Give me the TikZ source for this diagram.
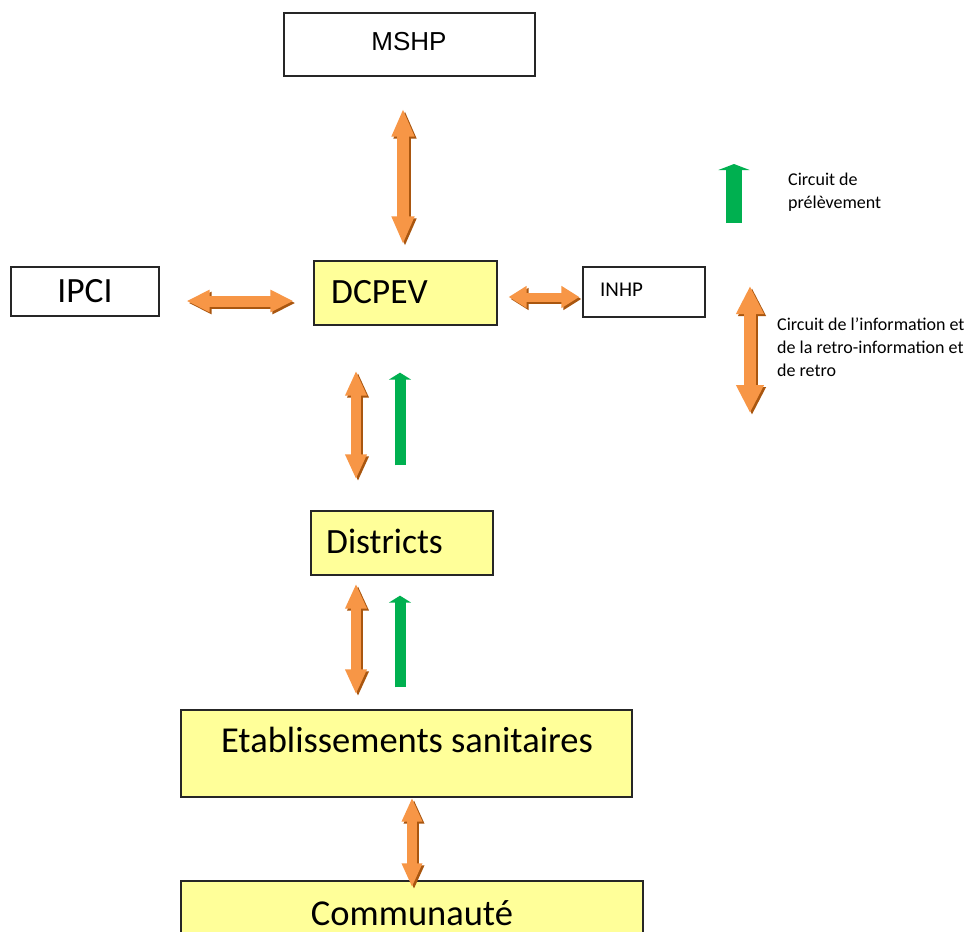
\documentclass[tikz,border=0pt]{standalone}
\usepackage{fontspec}
\setmainfont{Carlito}
\newfontfamily\arialfont{Liberation Sans}
\usetikzlibrary{arrows.meta,calc}
\definecolor{boxyellow}{HTML}{FFFF99}
\definecolor{oarr}{HTML}{F79646}
\definecolor{oshadow}{HTML}{A9560F}
\definecolor{garr}{HTML}{00B050}
\definecolor{boxline}{HTML}{262626}
\begin{document}
\begin{tikzpicture}[x=1pt,y=-1pt,
  box/.style={draw=boxline, line width=1.3pt, inner sep=0pt},
  ybox/.style={box, fill=boxyellow},
  bigtext/.style={inner sep=0pt, font=\fontsize{35.5}{42}\selectfont},
  hugetext/.style={inner sep=0pt, font=\fontsize{36.5}{42}\selectfont},
  legtext/.style={inner sep=0pt, align=left, anchor=north west, font=\fontsize{18}{23}\selectfont},
  oarrow/.style n args={3}{draw=oarr, line width=#1, {Triangle[width=#2,length=#3]}-{Triangle[width=#2,length=#3]}},
  oshade/.style n args={3}{oarrow={#1}{#2}{#3}, draw=oshadow, transform canvas={shift={(2pt,-2pt)}}},
  garrow/.style n args={3}{draw=garr, line width=#1, -{Triangle[width=#2,length=#3]}}
]
\useasboundingbox (0,0) rectangle (970,932);
\clip (0,0) rectangle (970,932);
\fill[white] (0,0) rectangle (970,932);

% boxes
\node[box, minimum width=251pt, minimum height=63pt] (mshp) at (409.5,44.5) {};
\node[box, minimum width=148pt, minimum height=49pt] (ipci) at (85,291.5) {};
\node[ybox, minimum width=183pt, minimum height=64pt] (dcpev) at (405.5,293) {};
\node[box, minimum width=122pt, minimum height=50pt] (inhp) at (644,292) {};
\node[ybox, minimum width=182pt, minimum height=64pt] (districts) at (402,543) {};
\node[ybox, minimum width=451pt, minimum height=87pt] (etab) at (406.5,753.5) {};
\node[ybox, minimum width=462pt, minimum height=87pt] (comm) at (412,924.5) {};

% texts
\node[inner sep=0pt, anchor=base, font=\arialfont\fontsize{26}{30}\selectfont] (mshpt) at (409,50) {MSHP};
\node[bigtext, anchor=base] (ipcit) at (85,302) {IPCI};
\node[bigtext, anchor=base west] (dcpevt) at (331,303) {DCPEV};
\node[inner sep=0pt, anchor=base west, font=\fontsize{21}{24}\selectfont] (inhpt) at (600,296) {INHP};
\node[bigtext, anchor=base west] (districtst) at (326,553) {Districts};
\node[hugetext, anchor=base] (etabt) at (407,752) {Etablissements sanitaires};
\node[hugetext, anchor=base] (commt) at (412,925) {Communauté};

% legend
\node[legtext] (leg1) at (788,173) {Circuit de\\prélèvement};
\node[legtext] (leg2) at (777,318) {Circuit de l’information et\\de la retro-information et\\de retro};
\coordinate (lg1a) at (734,223);
\coordinate (lg1b) at (734,164);
\coordinate (lg2a) at (750,286);
\coordinate (lg2b) at (750,413);

% MSHP <-> DCPEV
\draw[oshade={12pt}{21pt}{28pt}, shorten <=32pt, shorten >=16pt] ([xshift=-6.5pt]mshp.south) -- ([xshift=-6.5pt]mshp.south |- dcpev.north);
\draw[oarrow={12pt}{21pt}{28pt}, shorten <=32pt, shorten >=16pt] ([xshift=-6.5pt]mshp.south) -- ([xshift=-6.5pt]mshp.south |- dcpev.north);

% IPCI <-> DCPEV
\draw[oshade={11pt}{21pt}{23pt}, shorten <=27pt, shorten >=20pt] ([yshift=-9.5pt]ipci.east) -- ([yshift=-9.5pt]ipci.east -| dcpev.west);
\draw[oarrow={11pt}{21pt}{23pt}, shorten <=27pt, shorten >=20pt] ([yshift=-9.5pt]ipci.east) -- ([yshift=-9.5pt]ipci.east -| dcpev.west);

% DCPEV <-> INHP
\draw[oshade={9pt}{21pt}{18pt}, shorten <=11pt, shorten >=3pt] ([yshift=-4pt]dcpev.east) -- ([yshift=-4pt]dcpev.east -| inhp.west);
\draw[oarrow={9pt}{21pt}{18pt}, shorten <=11pt, shorten >=3pt] ([yshift=-4pt]dcpev.east) -- ([yshift=-4pt]dcpev.east -| inhp.west);

% DCPEV <-> Districts
\draw[oshade={10pt}{20pt}{25pt}, shorten <=45pt, shorten >=31pt] ([xshift=-49.5pt]dcpev.south) -- ([xshift=-49.5pt]dcpev.south |- districts.north);
\draw[oarrow={10pt}{20pt}{25pt}, shorten <=45pt, shorten >=31pt] ([xshift=-49.5pt]dcpev.south) -- ([xshift=-49.5pt]dcpev.south |- districts.north);
\draw[garrow={11pt}{22pt}{7pt}, shorten <=45pt, shorten >=47pt] ([xshift=-2pt]districts.north) -- ([xshift=-2pt]districts.north |- dcpev.south);

% Districts <-> Etablissements
\draw[oshade={10pt}{20pt}{25pt}, shorten <=8pt, shorten >=15pt] ([xshift=-46pt]districts.south) -- ([xshift=-46pt]districts.south |- etab.north);
\draw[oarrow={10pt}{20pt}{25pt}, shorten <=8pt, shorten >=15pt] ([xshift=-46pt]districts.south) -- ([xshift=-46pt]districts.south |- etab.north);
\draw[garrow={11pt}{22pt}{7pt}, shorten <=22pt, shorten >=20pt] ([xshift=-6.5pt]etab.north) -- ([xshift=-6.5pt]etab.north |- districts.south);

% Etablissements <-> Communaute
\draw[oshade={10pt}{19pt}{24pt}, shorten >=-7pt] ([xshift=5.5pt]etab.south) -- ([xshift=5.5pt]etab.south |- comm.north);
\draw[oarrow={10pt}{19pt}{24pt}, shorten >=-7pt] ([xshift=5.5pt]etab.south) -- ([xshift=5.5pt]etab.south |- comm.north);

% legend arrows
\draw[garrow={16pt}{31pt}{6pt}] (lg1a) -- (lg1b);
\draw[oshade={12pt}{26pt}{28pt}] (lg2a) -- (lg2b);
\draw[oarrow={12pt}{26pt}{28pt}] (lg2a) -- (lg2b);
\end{tikzpicture}
\end{document}
